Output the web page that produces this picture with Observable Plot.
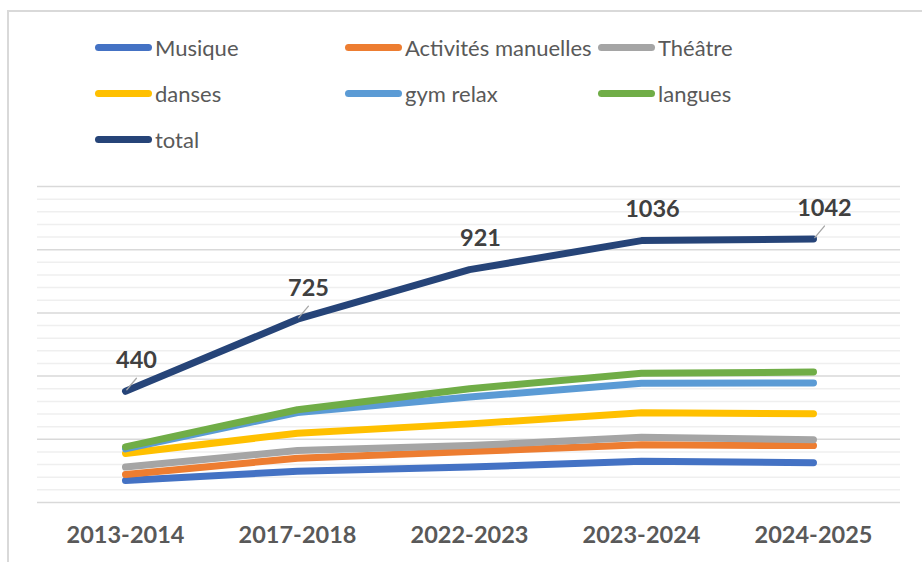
<!DOCTYPE html>
<html>
<head>
<meta charset="utf-8">
<script src="https://cdn.jsdelivr.net/npm/d3@7"></script>
<script src="https://cdn.jsdelivr.net/npm/@observablehq/plot@0.6"></script>
<style>
  html, body { margin: 0; padding: 0; background: #fff; }
  #wrap { position: relative; width: 922px; height: 562px; overflow: hidden; font-family: Lato, "Open Sans", sans-serif; }
  #frame { position: absolute; left: 7px; top: 10px; width: 930px; height: 600px; border-left: 2px solid #D9D9D9; border-top: 2px solid #D9D9D9; box-sizing: border-box; }
  #chart { position: absolute; left: 0; top: 0; }
  #legend { position: absolute; left: 95px; top: 24px; display: grid; grid-template-columns: 250px 253px 250px; grid-auto-rows: 46px; }
  .item { display: flex; align-items: center; height: 46px; font-size: 22px; color: #595959; white-space: nowrap; }
  .sw { width: 57px; height: 7px; border-radius: 4px; margin-right: 3px; flex: none; }
</style>
</head>
<body>
<div id="wrap">
  <div id="frame"></div>
  <div id="chart"></div>
  <div id="legend"></div>
</div>
<script>
const categories = ["2013-2014", "2017-2018", "2022-2023", "2023-2024", "2024-2025"];
const seriesNames = ["Musique", "Activités manuelles", "Théâtre", "danses", "gym relax", "langues", "total"];
const seriesColors = ["#4472C4", "#ED7D31", "#A5A5A5", "#FFC000", "#5B9BD5", "#70AD47", "#264478"];
const musique = [87, 124, 140, 163, 157];
const activites = [111, 175, 202, 228, 225];
const theatre = [140, 206, 225, 258, 248];
const danses = [194, 274, 311, 355, 351];
const gymRelax = [212, 356, 417, 472, 473];
const langues = [220, 367, 450, 511, 516];
const total = [440, 725, 921, 1036, 1042];

const seriesValues = [musique, activites, theatre, danses, gymRelax, langues, total];
const rows = seriesValues.flatMap((vals, si) =>
  categories.map((c, i) => ({cat: c, value: vals[i], name: seriesNames[si]})));
const totalRows = categories.map((c, i) => ({cat: c, value: total[i]}));
const leaderRows = totalRows.filter((d, i) => i === 0 || i === 1 || i === 4);

const spike = {draw(ctx, l) { ctx.moveTo(0, -2); ctx.lineTo(0, -l); }};

const chart = Plot.plot({
  width: 922,
  height: 562,
  marginTop: 186,
  marginBottom: 60,
  marginLeft: 37,
  marginRight: 22,
  style: {fontFamily: "Lato, 'Open Sans', sans-serif", background: "transparent", color: "#595959"},
  x: {type: "point", domain: categories, padding: 0.5},
  y: {domain: [0, 1250], axis: null},
  color: {domain: seriesNames, range: seriesColors},
  marks: [
    Plot.ruleY(d3.range(0, 1251, 50).filter(v => v % 250 !== 0), {stroke: "#EFEFEF", strokeWidth: 1.5}),
    Plot.ruleY(d3.range(0, 1251, 250), {stroke: "#D9D9D9", strokeWidth: 1.5}),
    Plot.line(rows, {x: "cat", y: "value", z: "name", stroke: "name", strokeWidth: 7, strokeLinecap: "round", strokeLinejoin: "round"}),
    Plot.vector(leaderRows, {x: "cat", y: "value", length: 17, rotate: 40, anchor: "start", shape: spike, stroke: "#A6A6A6", strokeWidth: 1.3}),
    Plot.text(totalRows, {x: "cat", y: "value", text: d => String(d.value), dx: 11, dy: -31, fontSize: 23.5, fontWeight: "bold", fill: "#404040"}),
    Plot.axisX({tickSize: 0, tickPadding: 24, fontSize: 23.5, fontWeight: "bold", fill: "#595959", label: null})
  ]
});
document.getElementById("chart").appendChild(chart);

const legend = document.getElementById("legend");
seriesNames.forEach((n, i) => {
  const it = document.createElement("div");
  it.className = "item";
  const sw = document.createElement("span");
  sw.className = "sw";
  sw.style.background = seriesColors[i];
  const tx = document.createElement("span");
  tx.textContent = n;
  it.appendChild(sw);
  it.appendChild(tx);
  legend.appendChild(it);
});
</script>
</body>
</html>
